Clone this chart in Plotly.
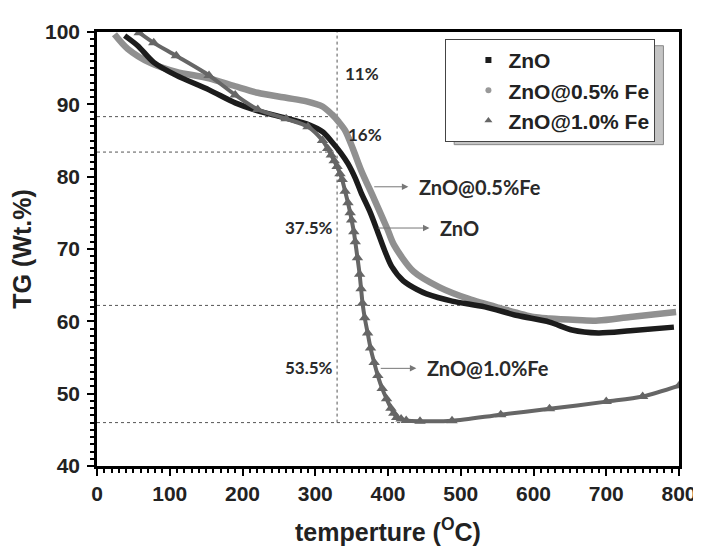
import plotly.graph_objects as go

# ---------------- data ----------------
zno_T = [38, 56, 78, 109, 154, 190, 221, 260, 288, 310, 323, 335, 345, 355, 363, 375, 385, 395,
         405, 421, 440, 453, 488, 533, 578, 622, 653, 689, 733, 793]
zno_W = [99.5, 98.1, 95.8, 94.0, 92.0, 90.2, 89.1, 88.1, 87.3, 86.2, 84.8, 83.3, 81.8, 79.8, 77.8,
         75.2, 72.6, 69.9, 67.6, 65.6, 64.4, 63.8, 62.8, 62.0, 60.8, 59.9, 58.8, 58.4, 58.7, 59.2]

fe05_T = [24, 42, 74, 109, 154, 190, 221, 260, 288, 310, 323, 332, 341, 352, 363, 381, 399, 408,
          435, 471, 511, 555, 600, 622, 660, 689, 733, 796]
fe05_W = [99.7, 97.7, 95.7, 94.5, 93.6, 92.5, 91.6, 90.9, 90.4, 89.7, 88.6, 87.6, 86.4, 83.8, 80.9,
          76.9, 72.8, 70.6, 66.9, 64.7, 63.1, 61.8, 60.6, 60.4, 60.2, 60.1, 60.6, 61.3]

fe10_T = [58, 78, 109, 154, 190, 221, 260, 290, 310, 317, 322, 326, 330, 334, 337, 341, 345, 348,
          350, 353, 355, 358, 361, 363, 365, 368, 372, 376, 381, 386, 392, 398, 404, 408, 412, 418,
          425, 444, 488, 555, 622, 700, 750, 800]
fe10_W = [99.9, 98.5, 96.7, 94.0, 91.3, 89.3, 88.0, 86.9, 85.0, 83.9, 83.0, 82.2, 81.4, 80.4, 79.6,
          78.0, 76.4, 75.0, 74.0, 72.4, 71.0, 68.8, 66.5, 64.5, 62.5, 60.5, 58.4, 56.3, 54.3, 52.5,
          50.7, 49.3, 48.0, 47.3, 46.7, 46.5, 46.3, 46.2, 46.25, 47.1, 47.9, 48.9, 49.6, 51.1]

series_names = ["ZnO", "ZnO@0.5% Fe", "ZnO@1.0% Fe"]
x_ticks = [0, 100, 200, 300, 400, 500, 600, 700, 800]
y_ticks = [40, 50, 60, 70, 80, 90, 100]

# guide lines: level (Wt.%), x-end
guide_levels = [88.3, 83.4, 62.2, 46.0]
guide_xend = [330, 330, 800, 420]
guide_T = 330
loss_labels = ["11%", "16%", "37.5%", "53.5%"]
loss_pos = [(338, 94.2, "left"), (342, 85.8, "left"), (327, 73.0, "right"), (327, 53.6, "right")]

# curve callouts: text, y, arrow start T, arrow end T
callouts = [("ZnO@0.5%Fe", 78.6, 379, 428), ("ZnO", 72.9, 384, 457), ("ZnO@1.0%Fe", 53.5, 388, 439)]

C_ZNO = "#1c1c1c"
C_05 = "#909090"
C_10 = "#666666"

fig = go.Figure()

# guide lines
for lv, xe in zip(guide_levels, guide_xend):
    fig.add_trace(go.Scatter(x=[0, xe], y=[lv, lv], mode="lines", showlegend=False, hoverinfo="skip",
                             line=dict(color="#555555", width=1, dash="3px,3px")))
fig.add_trace(go.Scatter(x=[guide_T, guide_T], y=[min(guide_levels), 100], mode="lines", showlegend=False,
                         hoverinfo="skip", line=dict(color="#555555", width=1, dash="3px,3px")))

# curves
fig.add_trace(go.Scatter(x=fe05_T, y=fe05_W, mode="lines", showlegend=False,
                         line=dict(color=C_05, width=6.5, shape="spline", smoothing=0.8)))
fig.add_trace(go.Scatter(x=zno_T, y=zno_W, mode="lines", showlegend=False,
                         line=dict(color=C_ZNO, width=5.5, shape="spline", smoothing=0.8)))
fig.add_trace(go.Scatter(x=fe10_T, y=fe10_W, mode="lines+markers", showlegend=False,
                         line=dict(color=C_10, width=4, shape="spline", smoothing=0.8),
                         marker=dict(symbol="triangle-up", size=10, color=C_10)))

# legend entries (markers only, as in the reference)
fig.add_trace(go.Scatter(x=[None], y=[None], mode="markers", name=f"<b>{series_names[0]}</b>",
                         marker=dict(symbol="square", size=6, color=C_ZNO)))
fig.add_trace(go.Scatter(x=[None], y=[None], mode="markers", name=f"<b>{series_names[1]}</b>",
                         marker=dict(symbol="circle", size=6, color="#999999")))
fig.add_trace(go.Scatter(x=[None], y=[None], mode="markers", name=f"<b>{series_names[2]}</b>",
                         marker=dict(symbol="triangle-up", size=7, color=C_10)))

ann = []
for txt, (x, y, al) in zip(loss_labels, loss_pos):
    ann.append(dict(x=x, y=y, text=f"<b>{txt}</b>", showarrow=False, xanchor=al, yanchor="middle",
                    font=dict(family="Lato, Open Sans, sans-serif", size=17, color="#2a2a2a")))
for txt, y, xs, xe in callouts:
    ann.append(dict(x=xe, y=y, ax=xs, ay=y, axref="x", ayref="y", text="", showarrow=True,
                    arrowhead=2, arrowsize=1.3, arrowwidth=1, arrowcolor="#777777"))
    ann.append(dict(x=xe + 12, y=y, text=f"<b>{txt}</b>", showarrow=False, xanchor="left",
                    yanchor="middle",
                    font=dict(family="Lato, Open Sans, sans-serif", size=20, color="#2a2a2a")))

fig.update_layout(
    width=701, height=546,
    margin=dict(l=85, r=18, t=16, b=87),
    paper_bgcolor="white", plot_bgcolor="white",
    font=dict(family="Liberation Sans, Arial, sans-serif", color="#222222"),
    annotations=ann,
    showlegend=True,
    legend=dict(x=(443 - 85) / 598, y=(459 - 23) / 443, xanchor="left", yanchor="top",
                bgcolor="white", bordercolor="#444444", borderwidth=1,
                font=dict(family="Liberation Sans, Arial, sans-serif", size=21, color="#222222"),
                indentation=22, itemwidth=30, tracegroupgap=0),
    shapes=[dict(type="rect", xref="paper", yref="paper",
                 x0=(452 - 85) / 598, x1=(667 - 85) / 598,
                 y0=(459 - 131) / 443, y1=(459 - 30) / 443,
                 fillcolor="#c4c4c4", line=dict(color="#888888", width=1), layer="above")],
)

tick_font = dict(family="Liberation Sans Narrow, Liberation Sans, Arial, sans-serif", size=21)
fig.update_xaxes(range=[0, 800], tickvals=x_ticks, ticktext=[f"<b>{v}</b>" for v in x_ticks],
                 showgrid=False, zeroline=False, showline=True, linecolor="black", linewidth=2.5,
                 mirror=True, ticks="outside", ticklen=7, tickwidth=2, tickcolor="black",
                 tickfont=tick_font,
                 minor=dict(dtick=10, ticks="outside", ticklen=4, tickwidth=1.5, tickcolor="black"),
                 title=dict(text="<b>temperture (<sup>O</sup>C)</b>", standoff=20,
                            font=dict(family="Liberation Sans, Arial, sans-serif", size=25)))
fig.update_yaxes(range=[40, 100], tickvals=y_ticks, ticktext=[f"<b>{v}</b>" for v in y_ticks],
                 showgrid=False, zeroline=False, showline=True, linecolor="black", linewidth=2.5,
                 mirror=True, ticks="outside", ticklen=7, tickwidth=2, tickcolor="black",
                 tickfont=tick_font, ticklabelstandoff=3,
                 minor=dict(dtick=1, ticks="outside", ticklen=4, tickwidth=1.5, tickcolor="black"),
                 title=dict(text="<b>TG (Wt.%)</b>", standoff=8,
                            font=dict(family="Liberation Sans, Arial, sans-serif", size=25)))

fig.write_html("out.html")
